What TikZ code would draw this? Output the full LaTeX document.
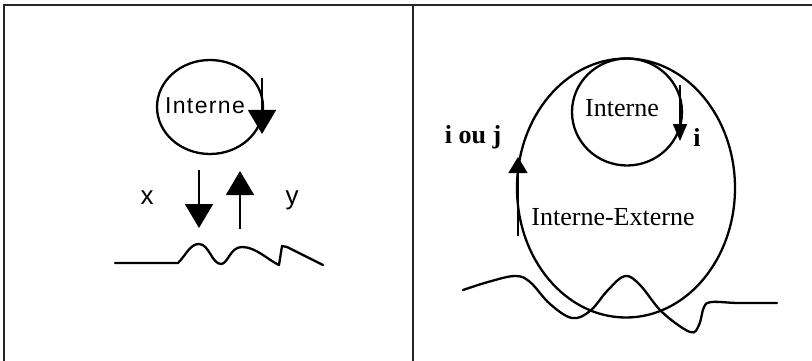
\documentclass[tikz,border=0pt]{standalone}
\usepackage{fontspec}
\setmainfont{Liberation Serif}
\newfontfamily\arialsp[LetterSpace=6]{Liberation Sans}
\newfontfamily\arialf{Liberation Sans}
\usetikzlibrary{arrows.meta,shapes.geometric}
\begin{document}
\begin{tikzpicture}[x=1pt,y=-1pt,
  frame/.style={line width=1.4pt,black!85},
  curve/.style={line width=2.3pt,line join=round,line cap=round},
  bigarrow/.style={line width=1.6pt,-{Triangle[length=24pt,width=28pt]}},
  midarrow/.style={line width=1.6pt,-{Triangle[length=16pt,width=19pt]}},
  smallarrow/.style={line width=1.6pt,-{Triangle[length=17pt,width=14pt]}},
  sanslbl/.style={font=\arialsp\fontsize{23}{26}\selectfont,inner sep=0pt},
  sanslet/.style={font=\arialf\fontsize{26}{29}\selectfont,inner sep=0pt},
  seriflbl/.style={font=\fontsize{26}{30}\selectfont,inner sep=0pt},
  boldlbl/.style={font=\bfseries\fontsize{26}{30}\selectfont,inner sep=0pt}]
\useasboundingbox (0,0) rectangle (812,361);
% frame
\coordinate (tl) at (4,5);
\coordinate (tr) at (812,5);
\coordinate (bl) at (4,361);
\coordinate (mt) at (413,5);
\coordinate (mb) at (413,361);
\draw[frame] (tr) -- (tl) -- (bl);
\draw[frame] (mt) -- (mb);

% ---------- left panel ----------
\node[draw,curve,ellipse,minimum width=106pt,minimum height=94pt,inner sep=0pt] (lcirc) at (210,107) {};
\node[sanslbl] (lint) at (205,106) {Interne};
\coordinate (la1) at (262,78);
\coordinate (la2) at (262,134);
\draw[bigarrow] (la1) -- (la2);
\coordinate (xa1) at (199,170);
\coordinate (xa2) at (199,228);
\draw[bigarrow] (xa1) -- (xa2);
\coordinate (ya1) at (240,229);
\coordinate (ya2) at (240,171);
\draw[bigarrow] (ya1) -- (ya2);
\node[sanslet] (xl) at (147,198) {x};
\node[sanslet] (yl) at (292,200) {y};
\draw[curve] (115,263) -- (178,263)
  .. controls (186,255) and (190,244) .. (199,244)
  .. controls (209,244) and (212,264) .. (221,264)
  .. controls (228,264) and (230,247) .. (242,247)
  .. controls (256,247) and (268,260) .. (279,265)
  -- (282,246) -- (287,247) -- (323,265);

% ---------- right panel ----------
\node[draw,curve,ellipse,minimum width=218pt,minimum height=259pt,inner sep=0pt] (big) at (626,188) {};
\node[draw,curve,ellipse,minimum width=110pt,minimum height=107pt,inner sep=0pt] (small) at (627,112) {};
\node[seriflbl] (rint) at (622,108) {Interne};
\node[seriflbl] (rie) at (613,217) {Interne-Externe};
\node[boldlbl] (ri) at (697,137) {i};
\node[boldlbl] (rij) at (473,137) {i ou j};
\coordinate (sa1) at (680,85);
\coordinate (sa2) at (680,141);
\draw[smallarrow] (sa1) -- (sa2);
\coordinate (ba1) at (518,236);
\coordinate (ba2) at (518,157);
\draw[midarrow] (ba1) -- (ba2);
\draw[curve] plot[smooth,tension=0.6] coordinates {(463,290) (488,282) (515,276) (530,282) (550,304) (572,318) (590,311) (608,290) (625,276) (640,285) (662,312) (690,332) (699,325) (704,307) (712,302) (738,303) (777,303)};
\end{tikzpicture}
\end{document}
